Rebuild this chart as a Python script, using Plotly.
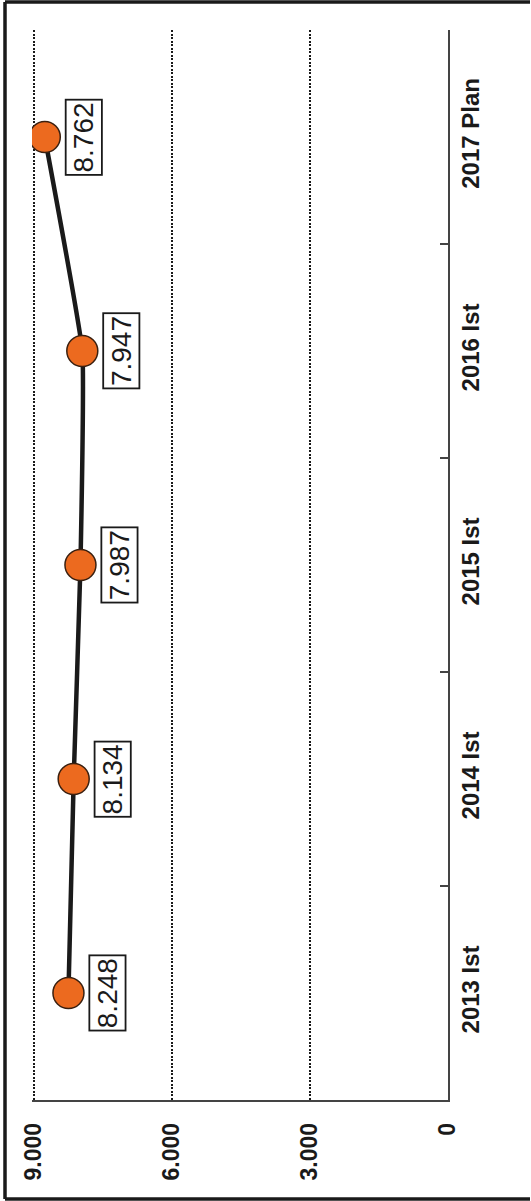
import plotly.graph_objects as go

# ---- data ----
categories = ["2013 Ist", "2014 Ist", "2015 Ist", "2016 Ist", "2017 Plan"]
values = [8.248, 8.134, 7.987, 7.947, 8.762]
value_labels = ["8.248", "8.134", "7.987", "7.947", "8.762"]
value_tickvals = [0, 3, 6, 9]
value_ticktext = ["0", "3.000", "6.000", "9.000"]
value_range = [9.04, 0]

# ---- layout constants (pixels) ----
W, H = 531, 1201
ML, MR, MT, MB = 32, 83, 30, 101
PW, PH = W - ML - MR, H - MT - MB

ORANGE = "#EC6A1F"
INK = "#1a1a1a"

fig = go.Figure()
fig.add_trace(go.Scatter(
    x=values, y=categories, mode="lines+markers",
    line=dict(color=INK, width=4.5, shape="spline", smoothing=0.3),
    marker=dict(size=31, color=ORANGE, line=dict(color="#3a2010", width=1.5)),
    hoverinfo="skip", showlegend=False,
))

for v, c, t in zip(values, categories, value_labels):
    fig.add_annotation(
        x=v, y=c, xref="x", yref="y", text=t, showarrow=False,
        xshift=39, textangle=-90,
        font=dict(family="Liberation Sans Narrow, Arial Narrow, Liberation Sans, Arial", size=28, color=INK),
        width=73, height=34, align="center", valign="middle",
        bordercolor=INK, borderwidth=1.8, borderpad=0, bgcolor="white",
    )

# outer scan frame (left, top, bottom edges only)
def px_to_paper_x(px):
    return (px - ML) / PW

def px_to_paper_y(py):
    return (H - MB - py) / PH

frame = dict(color=INK, width=3.5)
x_left, x_right = px_to_paper_x(5), px_to_paper_x(W - 1)
y_top, y_bot = px_to_paper_y(2), px_to_paper_y(1199)
fig.add_shape(type="line", xref="paper", yref="paper", x0=x_left, x1=x_left, y0=y_bot, y1=y_top, line=frame, layer="above")
fig.add_shape(type="line", xref="paper", yref="paper", x0=x_left, x1=x_right, y0=y_top, y1=y_top, line=frame, layer="above")
fig.add_shape(type="line", xref="paper", yref="paper", x0=x_left, x1=x_right, y0=y_bot, y1=y_bot, line=frame, layer="above")

fig.update_layout(
    width=W, height=H,
    margin=dict(l=ML, r=MR, t=MT, b=MB, pad=0),
    paper_bgcolor="white", plot_bgcolor="white",
    xaxis=dict(
        range=value_range, tickvals=value_tickvals, ticktext=value_ticktext,
        tickangle=-90, ticks="", ticklabelstandoff=12,
        tickfont=dict(family="Liberation Sans, Arial", size=23, color=INK, weight="bold"),
        showgrid=True, gridcolor=INK, griddash="2px,1.5px", gridwidth=2,
        zeroline=False, showline=True, linecolor="#444444", linewidth=1.5,
        fixedrange=True, automargin=False,
    ),
    yaxis=dict(
        type="category", categoryorder="array", categoryarray=categories,
        side="right", tickangle=-90, ticks="inside", ticklen=8, tickwidth=1.5,
        tickcolor="#444444", tickson="boundaries", ticklabelstandoff=0,
        tickfont=dict(family="Liberation Sans, Arial", size=24, color=INK, weight="bold"),
        showgrid=False, zeroline=False, showline=True, linecolor="#444444", linewidth=1.5,
        range=[-0.5, 4.5], fixedrange=True, automargin=False,
    ),
)

fig.write_html("out.html", config={"displayModeBar": False},
               post_script="document.body.style.margin='0';")
